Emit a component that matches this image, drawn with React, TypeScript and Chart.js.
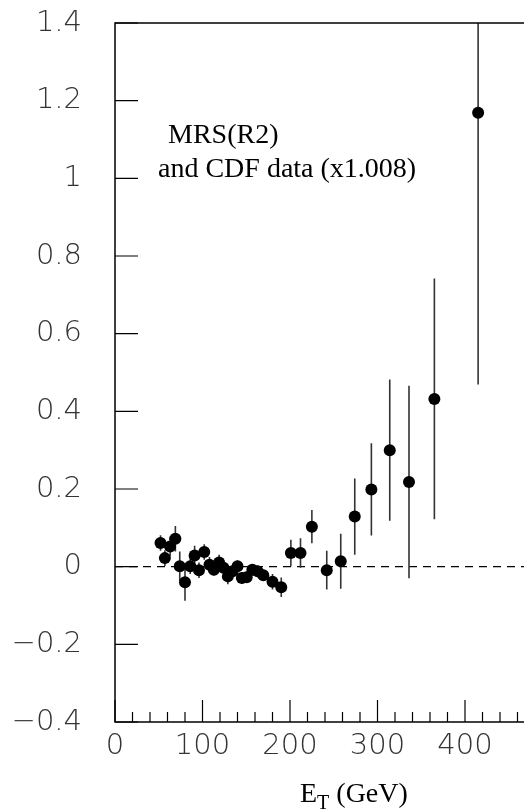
import React, { useEffect, useRef } from 'react';
import { Chart, registerables } from 'chart.js';

Chart.register(...registerables);

// E_T (GeV) bin centres
const etValues = [52, 57, 63, 69, 74, 80, 86, 91, 96, 102, 108, 113, 119, 124, 129, 134.5, 140, 145, 150.5, 157, 163, 169.5, 180, 190, 201, 212, 225, 242, 258, 274, 293, 314, 336, 365, 415];
// (data - theory) / theory
const ratioValues = [0.061, 0.022, 0.052, 0.072, 0.001, -0.04, 0.001, 0.029, -0.009, 0.038, 0.005, -0.008, 0.011, -0.003, -0.025, -0.012, 0.001, -0.029, -0.027, -0.008, -0.012, -0.022, -0.039, -0.053, 0.035, 0.035, 0.103, -0.009, 0.014, 0.129, 0.199, 0.3, 0.218, 0.432, 1.169];
const ratioErrors = [0.02, 0.02, 0.025, 0.033, 0.038, 0.048, 0.02, 0.025, 0.02, 0.02, 0.02, 0.015, 0.02, 0.015, 0.02, 0.015, 0.015, 0.015, 0.015, 0.015, 0.015, 0.015, 0.02, 0.025, 0.034, 0.038, 0.043, 0.05, 0.071, 0.098, 0.119, 0.182, 0.248, 0.31, 0.7];

const yTickValues = [-0.4, -0.2, 0, 0.2, 0.4, 0.6, 0.8, 1, 1.2, 1.4];
const xMajorTicks = [0, 100, 200, 300, 400, 500];
const xMinorTicks = [20, 40, 60, 80, 120, 140, 160, 180, 220, 240, 260, 280, 320, 340, 360, 380, 420, 440, 460, 480];
const xLabelValues = [0, 100, 200, 300, 400];
const annotationLines = ['MRS(R2)', 'and CDF data (x1.008)'];
const axisTitleMain = 'E';
const axisTitleSub = 'T';
const axisTitleRest = ' (GeV)';

const tickFont = { family: '"DejaVu Sans", sans-serif', size: 29, weight: 200 as any };
const serif = '"Liberation Serif", "Times New Roman", serif';

export default function App() {
  const ref = useRef<HTMLCanvasElement>(null);

  useEffect(() => {
    const canvas = ref.current;
    if (!canvas) return;

    const decor = {
      id: 'decor',
      beforeDatasetsDraw(chart: any) {
        const { ctx, chartArea: a, scales } = chart;
        const x = scales.x;
        const y = scales.y;
        ctx.save();
        ctx.beginPath();
        ctx.rect(a.left, a.top, a.right - a.left, a.bottom - a.top);
        ctx.clip();
        ctx.strokeStyle = '#000';
        ctx.lineWidth = 1.3;
        ctx.setLineDash([8, 6]);
        ctx.beginPath();
        const y0 = y.getPixelForValue(0);
        ctx.moveTo(a.left, y0);
        ctx.lineTo(a.right, y0);
        ctx.stroke();
        ctx.setLineDash([]);
        ctx.strokeStyle = '#333';
        ctx.lineWidth = 1.6;
        etValues.forEach((et, i) => {
          const px = x.getPixelForValue(et);
          ctx.beginPath();
          ctx.moveTo(px, y.getPixelForValue(ratioValues[i] - ratioErrors[i]));
          ctx.lineTo(px, y.getPixelForValue(ratioValues[i] + ratioErrors[i]));
          ctx.stroke();
        });
        ctx.restore();
      },
      afterDatasetsDraw(chart: any) {
        const { ctx, chartArea: a, scales } = chart;
        const x = scales.x;
        const y = scales.y;
        ctx.save();
        ctx.strokeStyle = '#000';
        ctx.lineWidth = 1.5;
        ctx.strokeRect(a.left, a.top, a.right - a.left, a.bottom - a.top);
        ctx.lineWidth = 1.2;
        yTickValues.forEach((v) => {
          const py = y.getPixelForValue(v);
          ctx.beginPath();
          ctx.moveTo(a.left, py);
          ctx.lineTo(a.left + 23, py);
          ctx.moveTo(a.right, py);
          ctx.lineTo(a.right - 23, py);
          ctx.stroke();
        });
        xMajorTicks.forEach((v) => {
          const px = x.getPixelForValue(v);
          ctx.beginPath();
          ctx.moveTo(px, a.bottom);
          ctx.lineTo(px, a.bottom - 22);
          ctx.stroke();
        });
        xMinorTicks.forEach((v) => {
          const px = x.getPixelForValue(v);
          ctx.beginPath();
          ctx.moveTo(px, a.bottom);
          ctx.lineTo(px, a.bottom - 10);
          ctx.stroke();
        });
        ctx.fillStyle = '#000';
        ctx.textAlign = 'left';
        ctx.textBaseline = 'alphabetic';
        ctx.font = `28px ${serif}`;
        ctx.fillText(annotationLines[0], 168, 143);
        ctx.fillText(annotationLines[1], 158, 177);
        let tx = 300;
        ctx.font = `28px ${serif}`;
        ctx.fillText(axisTitleMain, tx, 802);
        tx += ctx.measureText(axisTitleMain).width;
        ctx.font = `20px ${serif}`;
        ctx.fillText(axisTitleSub, tx, 809);
        tx += ctx.measureText(axisTitleSub).width;
        ctx.font = `28px ${serif}`;
        ctx.fillText(axisTitleRest, tx, 802);
        ctx.restore();
      },
    };

    const chart = new Chart(canvas, {
      type: 'scatter',
      data: {
        datasets: [
          {
            data: etValues.map((v, i) => ({ x: v, y: ratioValues[i] })),
            pointRadius: 6,
            pointHoverRadius: 6,
            pointBackgroundColor: '#000',
            pointBorderWidth: 0,
            borderWidth: 0,
          },
        ],
      },
      options: {
        animation: false,
        responsive: false,
        maintainAspectRatio: false,
        layout: { padding: { top: 23, right: 47.5, left: 0, bottom: 0 } },
        plugins: { legend: { display: false }, tooltip: { enabled: false } },
        scales: {
          x: {
            type: 'linear',
            min: 0,
            max: 500,
            grid: { display: false, drawTicks: false },
            border: { display: false },
            afterFit: (s: any) => {
              s.height = 89;
              s.paddingLeft = 0;
              s.paddingRight = 0;
            },
            afterBuildTicks: (s: any) => {
              s.ticks = xMajorTicks.map((v) => ({ value: v }));
            },
            ticks: {
              autoSkip: false,
              maxRotation: 0,
              padding: 7,
              color: '#333',
              font: tickFont,
              callback: (v: any) => (xLabelValues.includes(Number(v)) ? String(v) : ''),
            },
          },
          y: {
            type: 'linear',
            min: -0.4,
            max: 1.4,
            grid: { display: false, drawTicks: false },
            border: { display: false },
            afterFit: (s: any) => {
              s.width = 115;
              s.paddingTop = 0;
              s.paddingBottom = 0;
            },
            afterBuildTicks: (s: any) => {
              s.ticks = yTickValues.map((v) => ({ value: v }));
            },
            ticks: {
              autoSkip: false,
              padding: 33,
              color: '#333',
              font: tickFont,
              callback: (v: any) => {
                const r = Math.round(Number(v) * 10) / 10;
                if (r === 0) return '0';
                const s = String(Math.abs(r));
                return r < 0 ? '\u2212' + s : s;
              },
            },
          },
        },
      },
      plugins: [decor],
    });

    return () => chart.destroy();
  }, []);

  return (
    <div
      style={{
        position: 'absolute',
        left: 0,
        top: 0,
        width: 524,
        height: 811,
        overflow: 'hidden',
        background: '#fff',
      }}
    >
      <canvas ref={ref} width={600} height={811} style={{ display: 'block' }} />
    </div>
  );
}
